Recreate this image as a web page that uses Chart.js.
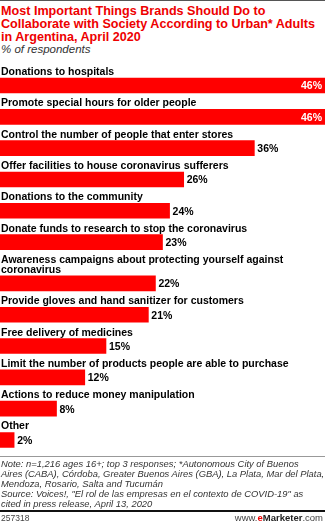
<!DOCTYPE html>
<html>
<head>
<meta charset="utf-8">
<script src="https://cdn.jsdelivr.net/npm/chart.js@4"></script>
<style>
  html, body { margin: 0; padding: 0; background: #fff; }
  body { width: 325px; height: 523px; position: relative; overflow: hidden; font-family: "Liberation Sans", Arial, sans-serif; }
  #topRule { position: absolute; left: 0; top: 0; width: 325px; height: 1px; background: #555; }
  #title { position: absolute; left: 1px; top: 5px; font-weight: bold; font-size: 12.6px; line-height: 13px; color: #ee0000; white-space: nowrap; }
  #subtitle { position: absolute; left: 1px; top: 43px; font-style: italic; font-size: 11.5px; line-height: 13px; color: #333; }
  #chartBox { position: absolute; left: 0; top: 0; width: 325px; height: 523px; }
  #noteRule { position: absolute; left: 0; top: 456px; width: 325px; height: 1px; background: #999; }
  #note { position: absolute; left: 1px; top: 459px; font-style: italic; font-size: 9.4px; line-height: 10px; color: #333; white-space: nowrap; }
  #footRule { position: absolute; left: 0; top: 510px; width: 325px; height: 2px; background: #111; }
  #code { position: absolute; left: 1px; top: 513px; font-size: 8.5px; line-height: 10px; color: #444; }
  #brand { position: absolute; right: 2px; top: 512px; font-size: 9.5px; line-height: 11px; color: #444; }
  #brand b { color: #222; }
  #brand .e { color: #ee0000; }
</style>
</head>
<body>
<div id="topRule"></div>
<div id="title">Most Important Things Brands Should Do to<br>Collaborate with Society According to Urban* Adults<br>in Argentina, April 2020</div>
<div id="subtitle">% of respondents</div>
<div id="chartBox"><canvas id="chart" width="325" height="523"></canvas></div>
<div id="noteRule"></div>
<div id="note">Note: n=1,216 ages 16+; top 3 responses; *Autonomous City of Buenos<br>Aires (CABA), Córdoba, Greater Buenos Aires (GBA), La Plata, Mar del Plata,<br>Mendoza, Rosario, Salta and Tucumán<br>Source: Voices!, "El rol de las empresas en el contexto de COVID-19" as<br>cited in press release, April 13, 2020</div>
<div id="footRule"></div>
<div id="code">257318</div>
<div id="brand">www.<b class="e">e</b><b>Marketer</b>.com</div>

<script>
// categories (one entry per line of the label) and share of respondents
const categories = [
  ['Donations to hospitals'],
  ['Promote special hours for older people'],
  ['Control the number of people that enter stores'],
  ['Offer facilities to house coronavirus sufferers'],
  ['Donations to the community'],
  ['Donate funds to research to stop the coronavirus'],
  ['Awareness campaigns about protecting yourself against', 'coronavirus'],
  ['Provide gloves and hand sanitizer for customers'],
  ['Free delivery of medicines'],
  ['Limit the number of products people are able to purchase'],
  ['Actions to reduce money manipulation'],
  ['Other']
];
const values = [46, 46, 36, 26, 24, 23, 22, 21, 15, 12, 8, 2];

// row layout: each row takes ROW px, every extra label line pushes rows down by LINE px
const ROW = 31.3;
const LINE = 10;
const BAR = 15;

let offset = 0;
const rows = categories.map((lines, i) => {
  offset += (lines.length - 1) * LINE;
  return { x: values[i], y: i * ROW + offset };
});
const yMin = -ROW / 2;
const yMax = rows[rows.length - 1].y + ROW / 2;

const labelFont = 'bold 10.5px "Liberation Sans", Arial, sans-serif';

const barLabels = {
  id: 'barLabels',
  afterDatasetsDraw(chart) {
    const { ctx, chartArea } = chart;
    const meta = chart.getDatasetMeta(0);
    ctx.save();
    ctx.font = labelFont;
    meta.data.forEach((bar, i) => {
      const top = bar.y - BAR / 2;
      // category text above the bar
      ctx.fillStyle = '#000';
      ctx.textAlign = 'left';
      ctx.textBaseline = 'alphabetic';
      const lines = categories[i];
      lines.forEach((ln, k) => {
        ctx.fillText(ln, 1, top - 3 - (lines.length - 1 - k) * LINE);
      });
      // value text, inside the bar when it would run off the edge
      const txt = values[i] + '%';
      const w = ctx.measureText(txt).width;
      ctx.textBaseline = 'middle';
      if (bar.x + w + 6 > chartArea.right) {
        ctx.fillStyle = '#fff';
        ctx.textAlign = 'right';
        ctx.fillText(txt, bar.x - 3, bar.y + 1);
      } else {
        ctx.fillStyle = '#000';
        ctx.textAlign = 'left';
        ctx.fillText(txt, bar.x + 3, bar.y + 1);
      }
    });
    ctx.restore();
  }
};

new Chart(document.getElementById('chart'), {
  type: 'bar',
  data: {
    datasets: [{
      data: rows,
      backgroundColor: '#ff0000',
      borderWidth: 0,
      barThickness: BAR
    }]
  },
  options: {
    indexAxis: 'y',
    responsive: false,
    animation: false,
    layout: { padding: { top: 69.85, bottom: 523 - 455.65, left: 0, right: 0 } },
    scales: {
      x: { type: 'linear', min: 0, max: 46, display: false },
      y: { type: 'linear', min: yMin, max: yMax, reverse: true, offset: false, display: false }
    },
    plugins: {
      legend: { display: false },
      tooltip: { enabled: false }
    }
  },
  plugins: [barLabels]
});
</script>
</body>
</html>
